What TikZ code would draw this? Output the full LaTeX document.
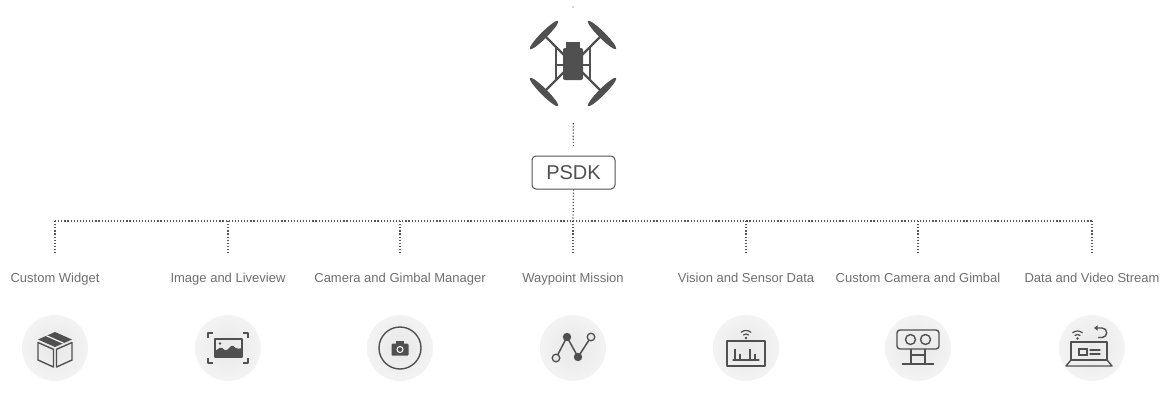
\documentclass[tikz,border=0pt]{standalone}
\usepackage{fontspec}
\setmainfont{Liberation Sans}
\usetikzlibrary{arrows.meta}
\definecolor{ink}{HTML}{505050}
\definecolor{linkgray}{HTML}{555555}
\definecolor{labelgray}{HTML}{6E6E6E}
\definecolor{discin}{HTML}{E8E8E8}
\definecolor{discout}{HTML}{F3F3F3}

\begin{document}
\begin{tikzpicture}[x=1pt,y=-1pt,
  link/.style={draw=linkgray, line width=1.2pt, dash pattern=on 1.2pt off 1.9pt},
  lbl/.style={font=\fontsize{13}{15}\selectfont, text=labelgray, inner sep=0pt, anchor=base},
  disc/.style={circle, minimum size=66pt, inner sep=0pt, inner color=discin, outer color=discout},
  glyph/.style={draw=ink, line width=1.4pt, line join=round},
  thin glyph/.style={draw=ink, line width=1.2pt, line cap=round},
  prop/.style={fill=ink},
]
\useasboundingbox (0,0) rectangle (1173,410);

% ---------- aircraft ----------
\node[minimum width=88pt, minimum height=88pt, inner sep=0pt] (drone) at (573,65) {};
\begin{scope}[shift={(drone.center)}]
  % arms
  \draw[ink, line width=2.4pt] (-29,-30) -- (-17,-18) -- (-9,-10);
  \draw[ink, line width=2.4pt] (29,-30) -- (17,-18) -- (9,-10);
  \draw[ink, line width=2.4pt] (-29,27) -- (-17,15) -- (-9,7);
  \draw[ink, line width=2.4pt] (29,27) -- (17,15) -- (9,7);
  % side frame
  \draw[ink, line width=1.6pt] (-17,-18) -- (-17,15) (17,-18) -- (17,15);
  \draw[ink, line width=1.6pt] (-17,0) -- (-9,0) (17,0) -- (9,0);
  % fuselage
  \fill[ink] (-7,-23) rectangle (7,-15);
  \fill[ink, rounded corners=2pt] (-10,-17) rectangle (10,15);
  % propellers
  \fill[prop] (-29,-30) ellipse [x radius=20, y radius=3.3, rotate=45];
  \fill[prop] (29,-30) ellipse [x radius=20, y radius=3.3, rotate=-45];
  \fill[prop] (-29,27) ellipse [x radius=20, y radius=3.3, rotate=-45];
  \fill[prop] (29,27) ellipse [x radius=20, y radius=3.3, rotate=45];
  \foreach \p in {(-29,-30),(29,-30),(-29,27),(29,27)} \fill[ink] \p circle (3.2);
\end{scope}

\coordinate (topdot) at (573,7);
\fill[linkgray] (topdot) circle (0.7);

% ---------- PSDK ----------
\node[draw=ink, line width=1pt, rounded corners=4pt, minimum width=83pt, minimum height=33pt,
      inner sep=0pt, font=\fontsize{20}{24}\selectfont, text=ink] (psdk) at (573.5,172.5) {PSDK};
\draw[link, shorten <=14pt, shorten >=9pt] (drone.south) -- (psdk.north);

% ---------- bus ----------
\coordinate (bus) at (573,221);
\draw[link] (psdk.south) -- (bus);
\foreach \i/\x in {1/55,2/228,3/400,4/573,5/746,6/918,7/1092}
  \coordinate (b\i) at (\x,221);
\draw[link] (b1) -- (b7);

% ---------- labels, branches and discs ----------
\foreach \i/\x/\t in {1/55/Custom Widget,
                      2/228/Image and Liveview,
                      3/400/Camera and Gimbal Manager,
                      4/573/Waypoint Mission,
                      5/746/Vision and Sensor Data,
                      6/918/Custom Camera and Gimbal,
                      7/1092/Data and Video Stream}{
  \node[lbl] (l\i) at (\x,282.7) {\t};
  \draw[link, shorten >=18pt] (b\i) -- (l\i.north);
  \node[disc] (d\i) at (\x,348) {};
}

% custom widget: box
\begin{scope}[shift={(d1.center)}]
  \fill[ink] (0,-16) -- (-17,-8.5) -- (0,-1) -- (17,-8.5) -- cycle;
  \draw[white, line width=1.2pt] (-8.5,-12.25) -- (8.5,-4.75);
  \draw[glyph] (-17,-5.5) -- (-17,12) -- (-1.5,19) -- (-1.5,1.3) -- cycle;
  \draw[glyph] (17,-5.5) -- (17,12) -- (1.5,19) -- (1.5,1.3) -- cycle;
\end{scope}

% image and liveview: framed picture
\begin{scope}[shift={(d2.center)}]
  \draw[glyph] (-20,-10) -- (-20,-15) -- (-15,-15);
  \draw[glyph] (20,-10) -- (20,-15) -- (15,-15);
  \draw[glyph] (-20,10) -- (-20,15) -- (-15,15);
  \draw[glyph] (20,10) -- (20,15) -- (15,15);
  \draw[glyph] (-13,-9) rectangle (14,9);
  \fill[ink, rounded corners=1.5pt] (-13,9) -- (-13,3) -- (-7,-1) -- (-2,3) -- (4,-3) -- (9,1) -- (14,0) -- (14,9) -- cycle;
  \fill[ink] (-8,-4.5) circle (1.4);
\end{scope}

% camera and gimbal manager: camera in a ring
\begin{scope}[shift={(d3.center)}]
  \draw[ink, line width=1.4pt] (0,0) circle (21);
  \fill[ink, rounded corners=1pt] (-8.5,-4.5) rectangle (8.5,7.5);
  \fill[ink] (-4,-7.5) rectangle (4,-3);
  \draw[white, line width=1pt] (0,1.5) circle (3);
\end{scope}

% waypoint mission: route
\begin{scope}[shift={(d4.center)}]
  \draw[ink, line width=1.5pt] (-17,10) -- (-6,-11) -- (5,9) -- (18,-11);
  \fill[ink] (-6,-11) circle (4.2);
  \fill[ink] (5,9) circle (4.2);
  \draw[ink, line width=1.3pt, fill=discin] (-17,10) circle (3.8);
  \draw[ink, line width=1.3pt, fill=discin] (18,-11) circle (3.8);
\end{scope}

% vision and sensor data: monitor with bars and signal
\begin{scope}[shift={(d5.center)}]
  \draw[glyph] (-19,-7) rectangle (19,18);
  \fill[ink] (0,-10) circle (1.3);
  \draw[thin glyph] (0,-10) ++(230:4) arc[start angle=230, end angle=310, radius=4];
  \draw[thin glyph] (0,-10) ++(230:7.5) arc[start angle=230, end angle=310, radius=7.5];
  \draw[thin glyph] (-13,12) -- (13,12);
  \draw[ink, line width=1.8pt] (-11,12) -- (-11,1) (-6,12) -- (-6,6) (4,12) -- (4,1) (9,12) -- (9,6);
\end{scope}

% custom camera and gimbal: stereo camera on a stand
\begin{scope}[shift={(d6.center)}]
  \draw[glyph, rounded corners=3pt] (-21,-18) rectangle (21,1);
  \draw[glyph] (-7.5,-8.5) circle (5);
  \draw[glyph] (7.5,-8.5) circle (5);
  \draw[glyph] (-7,1) -- (-7,16) (7,1) -- (7,16) (-7,7) -- (7,7) (-16,16) -- (16,16);
\end{scope}

% data and video stream: laptop with signal and return arrow
\begin{scope}[shift={(d7.center)}]
  \draw[glyph] (-21,-6) rectangle (15,12);
  \draw[glyph] (-21,12) -- (-26,18) -- (20,18) -- (15,12);
  \draw[ink, line width=1.1pt] (-13,1) rectangle (-5,7);
  \draw[thin glyph] (-2,2) -- (8,2) (-2,6) -- (8,6);
  \fill[ink] (-14.5,-9.5) circle (1.3);
  \draw[thin glyph] (-14.5,-9.5) ++(230:4) arc[start angle=230, end angle=310, radius=4];
  \draw[thin glyph] (-14.5,-9.5) ++(230:7.5) arc[start angle=230, end angle=310, radius=7.5];
  \draw[glyph, -{Triangle[length=3.5pt,width=5pt]}] (6,-10.5) -- (10,-10.5)
       arc[start angle=90, end angle=-90, radius=4.75] -- (2,-20);
\end{scope}
\end{tikzpicture}
\end{document}
